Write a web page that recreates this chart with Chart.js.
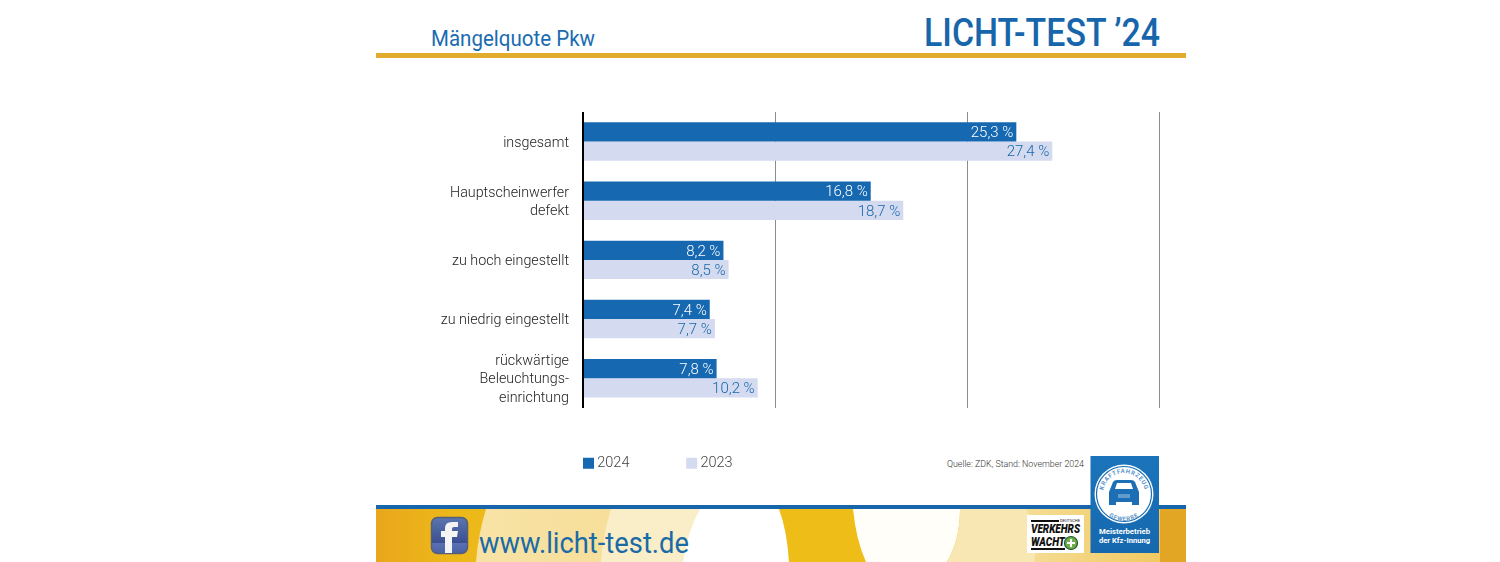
<!DOCTYPE html>
<html lang="de"><head><meta charset="utf-8">
<style>
html,body{margin:0;padding:0;background:#fff;width:1500px;height:562px;overflow:hidden}
#wrap{position:relative;width:1500px;height:562px}
#wrap svg{position:absolute;left:0;top:0}
#c{position:absolute;left:0;top:0}
</style>
<script src="https://cdn.jsdelivr.net/npm/chart.js@4/dist/chart.umd.min.js"></script>
</head><body>
<div id="wrap">
<svg width="1500" height="562" viewBox="0 0 1500 562" font-family="Roboto, sans-serif">
<defs>
<linearGradient id="fg" x1="0" x2="1" y1="0" y2="0"><stop offset="0" stop-color="#e9a71b"/><stop offset="0.1" stop-color="#edb91a"/><stop offset="1" stop-color="#eebd18"/></linearGradient>
<linearGradient id="pl" x1="0" x2="1" y1="0" y2="0"><stop offset="0" stop-color="#f8e3a6"/><stop offset="1" stop-color="#f5d98a"/></linearGradient>
<linearGradient id="fr" x1="0" x2="1" y1="0" y2="0"><stop offset="0" stop-color="#f5dd95"/><stop offset="1" stop-color="#f0c557"/></linearGradient>
<linearGradient id="lg" x1="0" x2="0" y1="0" y2="1"><stop offset="0" stop-color="#1b74bb"/><stop offset="1" stop-color="#1668ae"/></linearGradient>
<linearGradient id="fb" x1="0" x2="0" y1="0" y2="1"><stop offset="0" stop-color="#5c76b0"/><stop offset="0.7" stop-color="#3a4f92"/><stop offset="0.71" stop-color="#5a72b4"/><stop offset="1" stop-color="#4a62a4"/></linearGradient>
<clipPath id="fc"><rect x="376" y="509" width="810" height="53"/></clipPath>
</defs>
<text x="431" y="46" font-size="22" fill="#1a6bb0" textLength="164" lengthAdjust="spacingAndGlyphs">Mängelquote Pkw</text>
<text x="924" y="46" font-size="38" font-weight="500" fill="#1766ab" textLength="236" lengthAdjust="spacingAndGlyphs">LICHT-TEST ’24</text>
<rect x="376" y="53" width="810" height="5" fill="#e2ad2e"/>
<text x="1084" y="467" font-size="9.5" font-weight="300" fill="#333" text-anchor="end" textLength="137" lengthAdjust="spacingAndGlyphs">Quelle: ZDK, Stand: November 2024</text>
<rect x="376" y="505" width="810" height="5" fill="#1766ab"/>
<g clip-path="url(#fc)">
<rect x="376" y="509" width="810" height="53" fill="url(#fg)"/>
<path d="M486 509 Q478 535 476 562 L800 562 L800 509 Z" fill="url(#pl)"/>
<path d="M611 509 Q603 535 601 562 L800 562 L800 509 Z" fill="#f9eec8"/>
<path d="M700 509 Q688 530 683 562 L789 562 Q787 530 779 509 Z" fill="#ffffff"/>
<path d="M779 509 Q787 530 789 562 L866 562 Q856 540 853 509 Z" fill="#eebd18"/>
<path d="M853 509 Q856 540 866 562 L947 562 Q960 540 960 509 Z" fill="#fffef8"/>
<path d="M960 509 Q960 540 947 562 L1040 562 L1040 509 Z" fill="#f8e7b2"/>
<path d="M1026 509 Q1040 535 1034 562 L1186 562 L1186 509 Z" fill="url(#fr)"/>
<path d="M1186 509 L1186 562 L1160 562 L1160 509 Z" fill="#e2a524"/>
</g>
<rect x="431.5" y="517.5" width="36" height="36" rx="6" fill="url(#fb)" stroke="#555f78" stroke-width="1.5"/>
<path d="M445 553 L445 537 L441 537 L441 531 L445 531 L445 528 Q445 522 452 522 L458 522 L458 527 L454 527 Q452 527 452 529 L452 531 L458 531 L457 537 L452 537 L452 553 Z" fill="#f4f4f4"/>
<text x="479" y="553" font-size="29" fill="#1a6aa6" textLength="210" lengthAdjust="spacingAndGlyphs">www.licht-test.de</text>
<rect x="1027" y="515" width="57" height="38" fill="#fff"/>
<rect x="1031" y="520" width="28" height="2" fill="#111"/>
<text x="1080" y="522" font-size="4" fill="#111" text-anchor="end">DEUTSCHE</text>
<text x="1031" y="533" font-size="12" font-weight="900" font-style="italic" fill="#111" textLength="49" lengthAdjust="spacingAndGlyphs">VERKEHRS</text>
<text x="1031" y="546" font-size="12" font-weight="900" font-style="italic" fill="#111" textLength="34" lengthAdjust="spacingAndGlyphs">WACHT</text>
<rect x="1031" y="548" width="34" height="2" fill="#111"/>
<circle cx="1071" cy="543" r="6.5" fill="#6fae4a" stroke="#1d5b2c" stroke-width="1.2"/>
<path d="M1071 539V547M1067 543H1075" stroke="#fff" stroke-width="2"/>
<rect x="1090.5" y="456" width="68.5" height="97" fill="url(#lg)"/>
<circle cx="1124" cy="494" r="29.5" fill="#fff"/>
<circle cx="1124" cy="494" r="27.5" fill="none" stroke="#1a6db3" stroke-width="1.2"/>
<path d="M1109 492 L1113 482 Q1114 480 1117 480 L1131 480 Q1134 480 1135 482 L1139 492 L1139 505 L1132 505 L1132 502 L1116 502 L1116 505 L1109 505 Z" fill="#1c6fb5"/>
<path d="M1115 489 L1117 483 L1131 483 L1133 489 Z" fill="#fff"/>
<path d="M1118 495H1130M1118 497H1130" stroke="#cfe0f0" stroke-width="0.8"/>
<path id="ka" d="M1103 494 A21 21 0 0 1 1145 494" fill="none"/>
<path id="kb" d="M1100 505 A26 26 0 0 0 1148 505" fill="none"/>
<text font-size="6" font-weight="700" fill="#5b93c9" letter-spacing="0.7"><textPath href="#ka" startOffset="50%" text-anchor="middle">KRAFTFAHRZEUG</textPath></text>
<text font-size="6" font-weight="700" fill="#5b93c9" letter-spacing="0.7"><textPath href="#kb" startOffset="50%" text-anchor="middle">GEWERBE</textPath></text>
<text x="1124.5" y="534" font-size="8" font-weight="700" fill="#fff" text-anchor="middle" textLength="51" lengthAdjust="spacingAndGlyphs">Meisterbetrieb</text>
<text x="1124.5" y="543" font-size="8" font-weight="700" fill="#fff" text-anchor="middle" textLength="51" lengthAdjust="spacingAndGlyphs">der Kfz-Innung</text>
</svg>
<canvas id="c" width="1500" height="562"></canvas>
</div>
<script>
const categories = [["insgesamt"],["Hauptscheinwerfer","defekt"],["zu hoch eingestellt"],["zu niedrig eingestellt"],["rückwärtige","Beleuchtungs-","einrichtung"]];
const series2024 = [25.3,16.8,8.2,7.4,7.8];
const series2023 = [27.4,18.7,8.5,7.7,10.2];
const seriesNames = ["2024","2023"];
const gridMax = 33.63;
const fontFamily = "Roboto, sans-serif";

const valueLabels = {
  id:'valueLabels',
  afterDatasetsDraw(chart){
    const ctx = chart.ctx;
    ctx.save();
    ctx.font = '300 15px '+fontFamily;
    ctx.textAlign='right'; ctx.textBaseline='middle';
    chart.data.datasets.forEach((ds,i)=>{
      ctx.fillStyle = i===0 ? '#ffffff' : '#1666aa';
      chart.getDatasetMeta(i).data.forEach((el,j)=>{
        ctx.fillText(ds.data[j].toFixed(1).replace('.',',')+' %', el.x-3, el.y+1.5);
      });
    });
    ctx.restore();
  }
};
const moveLegend = {
  id:'moveLegend',
  afterLayout(chart){
    const l = chart.legend;
    const pad = l.options.labels.padding;
    l.left = 587 - pad; l.top = 456 - pad;
  }
};
new Chart(document.getElementById('c'),{
  type:'bar',
  data:{labels:categories,datasets:[
    {label:seriesNames[0],data:series2024,backgroundColor:'#1668b0',categoryPercentage:0.65,barPercentage:1},
    {label:seriesNames[1],data:series2023,backgroundColor:'#d4dbf0',categoryPercentage:0.65,barPercentage:1}
  ]},
  plugins:[valueLabels,moveLegend],
  options:{
    indexAxis:'y',responsive:false,animation:false,
    layout:{padding:{left:383,right:341,top:112,bottom:69}},
    plugins:{
      tooltip:{enabled:false},
      legend:{position:'bottom',align:'start',fullSize:false,
        labels:{boxWidth:3,boxHeight:3,padding:60.75,color:'#444',font:{family:fontFamily,size:14.5,weight:'300'},
          generateLabels(chart){
            return chart.data.datasets.map((d,i)=>({text:d.label,fillStyle:d.backgroundColor,strokeStyle:d.backgroundColor,lineWidth:8,fontColor:'#444',datasetIndex:i,hidden:false}));
          }}}
    },
    scales:{
      x:{min:0,max:gridMax,
        afterBuildTicks(s){s.ticks=[0,gridMax/3,2*gridMax/3,gridMax].map(v=>({value:v}));},
        ticks:{display:false},
        border:{display:false},
        grid:{drawTicks:false,color:c=>c.index===0?'#000':'#8c8c8c',lineWidth:c=>c.index===0?2:1}},
      y:{afterFit(s){s.width=200;},
        ticks:{color:'#222',padding:14,labelOffset:1.5,font:{family:fontFamily,size:14.3,weight:'300',lineHeight:1.3}},
        border:{display:false},
        grid:{display:false,drawTicks:false}}
    }
  }
});
</script>
</body></html>
